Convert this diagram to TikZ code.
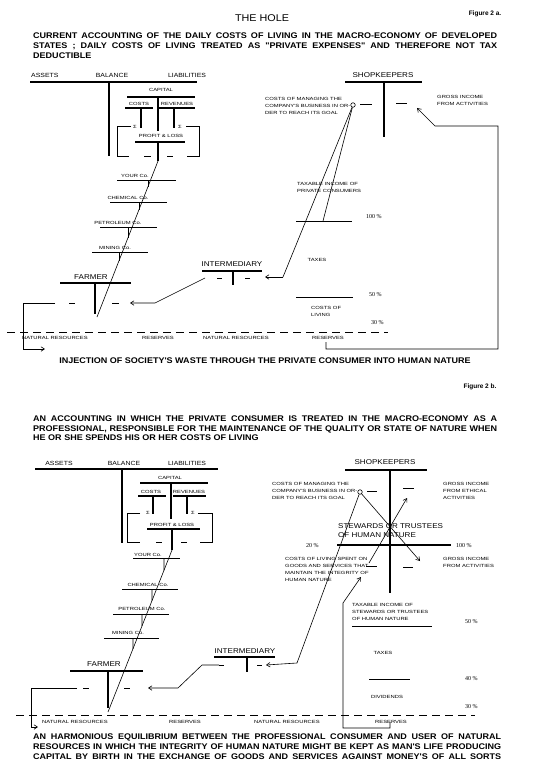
\documentclass[tikz,border=0pt]{standalone}
\usepackage{fontspec}
\setmainfont{Liberation Sans}
\newfontfamily\lab[FakeStretch=1.15]{Liberation Sans}
\newfontfamily\tny[FakeStretch=1.3]{Liberation Sans}
\newfontfamily\hdf[FakeStretch=1.1]{Liberation Sans}
\newfontfamily\pcf{Liberation Serif}
\usetikzlibrary{arrows.meta}
\begin{document}
\begin{tikzpicture}[x=1pt,y=-1pt,
 thk/.style={line width=1.7pt},
 med/.style={line width=1.1pt},
 thn/.style={line width=0.6pt},
 arr/.style={thn,-{Straight Barb[length=3.5pt,width=4.5pt]}},
 dsh/.style={line width=0.7pt,dash pattern=on 8pt off 5pt},
 hd/.style={font=\hdf\bfseries\fontsize{8.2}{9}\selectfont,inner sep=0pt,anchor=west},
 fg/.style={font=\bfseries\fontsize{6.5}{8}\selectfont,inner sep=0pt},
 ttl/.style={font=\hdf\fontsize{9.8}{11}\selectfont,inner sep=0pt},
 lb/.style={font=\lab\fontsize{6}{7}\selectfont,inner sep=0pt},
 lbb/.style={font=\lab\fontsize{7}{9}\selectfont,inner sep=0pt},
 tn/.style={font=\tny\fontsize{4.5}{7}\selectfont,inner sep=0pt},
 pc/.style={font=\pcf\fontsize{6}{7}\selectfont,inner sep=0pt,anchor=west},
 ring/.style={circle,draw,line width=0.6pt,inner sep=0pt,minimum size=4.5pt}]
\fill[white] (0,0) rectangle (543,765);
\useasboundingbox (0,0) rectangle (543,765);
% ================= FIGURE 2a =================
\node[ttl] (title) at (262,18) {THE HOLE};
\node[fg] (figa) at (485,14) {Figure 2 a.};
\node[hd] (p1a) at (33,36) {\makebox[464pt][s]{CURRENT ACCOUNTING OF THE DAILY COSTS OF LIVING IN THE MACRO-ECONOMY OF DEVELOPED}};
\node[hd] (p1b) at (33,46) {\makebox[464pt][s]{STATES ; DAILY COSTS OF LIVING TREATED AS "PRIVATE EXPENSES" AND THEREFORE NOT TAX}};
\node[hd] (p1c) at (33,56) {DEDUCTIBLE};
% balance
\node[lb,anchor=west] (as1) at (31,75) {ASSETS};
\node[lb] (ba1) at (112,75) {BALANCE};
\node[lb] (li1) at (187,75) {LIABILITIES};
\draw[thk] (30,82) -- (197,82);
\draw[thk] (109,82) -- (109,156);
\node[tn] (ca1) at (161,90) {CAPITAL};
\draw[med] (127,97) -- (195,97);
\draw[med] (158,97) -- (158,131);
\node[tn] (co1) at (139,104) {COSTS};
\draw[med] (125,108) -- (153,108);
\node[tn] (re1) at (177,104) {REVENUES};
\draw[med] (159,108) -- (195,108);
\draw[med] (141,108) -- (141,128);
\draw[med] (174,108) -- (174,128);
\node[tn] (s1a) at (135,127) {Σ};
\node[tn] (s1b) at (180,127) {Σ};
\draw[thn] (131,126) -- (117,126) -- (117,156) -- (129,156);
\draw[thn] (144,156) -- (151,156) (167,156) -- (173,156);
\draw[thn] (186,126) -- (199,126) -- (199,156) -- (187,156);
\node[tn] (pl1) at (161,136) {PROFIT \& LOSS};
\draw[med] (135,142) -- (185,142);
\draw[med] (158,142) -- (158,161);
\coordinate (dA1) at (158,161);
\coordinate (dB1) at (97,317);
\draw[thn] (dA1) -- (dB1);
% companies
\node[tn] (yc1) at (135,176) {YOUR Co.};
\draw[thn] (117,180) -- (176,180);
\coordinate (k1a) at (148,180); \coordinate (k1b) at (148,320);
\draw[thn] (k1a) -- (intersection of dA1--dB1 and k1a--k1b);
\node[tn] (ch1) at (128,198) {CHEMICAL Co.};
\draw[thn] (110,202) -- (167,202);
\coordinate (k2a) at (139,202); \coordinate (k2b) at (139,320);
\draw[thn] (k2a) -- (intersection of dA1--dB1 and k2a--k2b);
\node[tn] (pe1) at (118,223) {PETROLEUM Co.};
\draw[thn] (100,227) -- (157,227);
\coordinate (k3a) at (128,227); \coordinate (k3b) at (128,320);
\draw[thn] (k3a) -- (intersection of dA1--dB1 and k3a--k3b);
\node[tn] (mi1) at (115,248) {MINING Co.};
\draw[thn] (92,252) -- (148,252);
\coordinate (k4a) at (119,252); \coordinate (k4b) at (119,320);
\draw[thn] (k4a) -- (intersection of dA1--dB1 and k4a--k4b);
% farmer
\node[lbb] (fa1) at (91,277) {FARMER};
\draw[thk] (60,283) -- (131,283);
\draw[thk] (95,283) -- (95,314);
\draw[thn] (69,303) -- (75,303) (112,303) -- (119,303);
% intermediary
\node[lbb] (in1) at (232,264) {INTERMEDIARY};
\draw[thk] (202,271) -- (262,271);
\draw[thk] (233,271) -- (233,285);
\draw[thn] (217,278) -- (222,278) (245,278) -- (250,278);
\coordinate (i1a) at (205,278); \coordinate (i1b) at (155,303); \coordinate (i1c) at (130,303);
\draw[arr] (i1a) -- (i1b) -- (i1c);
% shopkeepers
\node[lbb] (sh1) at (383,75) {SHOPKEEPERS};
\draw[thk] (345,82) -- (422,82);
\draw[thk] (384,82) -- (384,137);
\node[ring] (c1) at (353,105) {};
\draw[thn] (360,104) -- (372,104) (396,103) -- (407,103);
\node[tn,align=left,anchor=north west] (cm1) at (265,97) {COSTS OF MANAGING THE\\COMPANY'S BUSINESS IN OR-\\DER TO REACH ITS GOAL};
\node[tn,align=left,anchor=north west] (gi1) at (437,95) {GROSS INCOME\\FROM ACTIVITIES};
\coordinate (t1a) at (283,277); \coordinate (t1b) at (265,277);
\draw[thn] (c1) -- (t1a); \draw[arr] (t1a) -- (t1b);
\coordinate (h1) at (323,221);
\draw[thn] (c1) -- (h1);
\coordinate (r1a) at (326,342); \coordinate (r1b) at (417,108);
\draw[arr] (r1a) -- (326,349) -- (498,349) -- (498,126) -- (435,126) -- (r1b);
\node[tn,align=left,anchor=north west] (tx1) at (297,182) {TAXABLE INCOME OF\\PRIVATE CONSUMERS};
\draw[thn] (296,221) -- (352,221);
\node[pc] (p100a) at (366,217) {100 \%};
\node[tn] (ta1) at (317,260) {TAXES};
\draw[thn] (296,297) -- (353,297);
\node[pc] (p50a) at (369,295) {50 \%};
\node[tn,align=left,anchor=north west] (cl1) at (311,306) {COSTS OF\\LIVING};
\node[pc] (p30a) at (371,323) {30 \%};
\draw[dsh] (7,332) -- (388,332);
\node[tn] (nr1a) at (55,338) {NATURAL RESOURCES};
\node[tn] (rs1a) at (158,338) {RESERVES};
\node[tn] (nr1b) at (236,338) {NATURAL RESOURCES};
\node[tn] (rs1b) at (328,338) {RESERVES};
\coordinate (l1a) at (55,303); \coordinate (l1b) at (45,349);
\draw[arr] (l1a) -- (23,303) -- (23,349) -- (l1b);
\node[hd,anchor=center] (inj) at (265,361) {INJECTION OF SOCIETY'S WASTE THROUGH THE PRIVATE CONSUMER INTO HUMAN NATURE};
% ================= FIGURE 2b =================
\node[fg] (figb) at (480,387) {Figure 2 b.};
\node[hd] (p2a) at (33,419) {\makebox[464pt][s]{AN ACCOUNTING IN WHICH THE PRIVATE CONSUMER IS TREATED IN THE MACRO-ECONOMY AS A}};
\node[hd] (p2b) at (33,429) {\makebox[464pt][s]{PROFESSIONAL, RESPONSIBLE FOR THE MAINTENANCE OF THE QUALITY OR STATE OF NATURE WHEN}};
\node[hd] (p2c) at (33,438) {HE OR SHE SPENDS HIS OR HER COSTS OF LIVING};
% balance
\node[lb] (as2) at (59,463) {ASSETS};
\node[lb] (ba2) at (124,463) {BALANCE};
\node[lb] (li2) at (187,463) {LIABILITIES};
\draw[thk] (35,469) -- (218,469);
\draw[thk] (122,469) -- (122,543);
\node[tn] (ca2) at (170,478) {CAPITAL};
\draw[med] (140,483) -- (208,483);
\draw[med] (171,483) -- (171,519);
\node[tn] (co2) at (151,492) {COSTS};
\draw[med] (138,496) -- (166,496);
\node[tn] (re2) at (189,492) {REVENUES};
\draw[med] (173,496) -- (206,496);
\draw[med] (153,496) -- (153,514);
\draw[med] (187,496) -- (187,514);
\node[tn] (s2a) at (148,513) {Σ};
\node[tn] (s2b) at (193,513) {Σ};
\draw[thn] (140,513) -- (127,513) -- (127,542) -- (140,542);
\draw[thn] (156,542) -- (162,542) (181,542) -- (187,542);
\draw[thn] (198,513) -- (212,513) -- (212,542) -- (200,542);
\node[tn] (pl2) at (172,525) {PROFIT \& LOSS};
\draw[med] (147,529) -- (200,529);
\draw[med] (172,529) -- (172,550);
\coordinate (dA2) at (172,550);
\coordinate (dB2) at (108,712);
\draw[thn] (dA2) -- (dB2);
\node[tn] (yc2) at (148,555) {YOUR Co.};
\draw[thn] (133,558) -- (180,558);
\coordinate (m1a) at (164,558); \coordinate (m1b) at (164,720);
\draw[thn] (m1a) -- (intersection of dA2--dB2 and m1a--m1b);
\node[tn] (ch2) at (148,585) {CHEMICAL Co.};
\draw[thn] (122,589) -- (178,589);
\coordinate (m2a) at (152,589); \coordinate (m2b) at (152,720);
\draw[thn] (m2a) -- (intersection of dA2--dB2 and m2a--m2b);
\node[tn] (pe2) at (142,609) {PETROLEUM Co.};
\draw[thn] (113,614) -- (169,614);
\coordinate (m3a) at (142,614); \coordinate (m3b) at (142,720);
\draw[thn] (m3a) -- (intersection of dA2--dB2 and m3a--m3b);
\node[tn] (mi2) at (128,633) {MINING Co.};
\draw[thn] (104,638) -- (159,638);
\coordinate (m4a) at (133,638); \coordinate (m4b) at (133,720);
\draw[thn] (m4a) -- (intersection of dA2--dB2 and m4a--m4b);
% farmer
\node[lbb] (fa2) at (104,664) {FARMER};
\draw[thk] (70,671) -- (143,671);
\draw[thk] (108,671) -- (108,708);
\draw[thn] (83,688) -- (89,688) (124,688) -- (130,688);
% intermediary
\node[lbb] (in2) at (245,651) {INTERMEDIARY};
\draw[thk] (214,657) -- (275,657);
\draw[thk] (247,657) -- (247,672);
\draw[thn] (219,665) -- (224,665) (257,665) -- (262,665);
\coordinate (i2a) at (219,665); \coordinate (i2b) at (148,688);
\draw[arr] (i2a) -- (202,665) -- (178,688) -- (i2b);
% shopkeepers / stewards
\node[lbb] (sh2) at (385,462) {SHOPKEEPERS};
\draw[thk] (345,470) -- (427,470);
\draw[thk] (390,470) -- (390,593);
\draw[thk] (337,545) -- (451,545);
\node[ring] (c2) at (360,492) {};
\draw[thn] (367,491) -- (377,491) (403,488) -- (414,488);
\draw[thn] (366,566) -- (377,566) (403,567) -- (413,567);
\node[tn,align=left,anchor=north west] (cm2) at (272,482) {COSTS OF MANAGING THE\\COMPANY'S BUSINESS IN OR-\\DER TO REACH ITS GOAL};
\node[tn,align=left,anchor=north west] (ge2) at (443,482) {GROSS INCOME\\FROM ETHICAL\\ACTIVITIES};
\node[lbb,align=left,anchor=north west,font=\lab\fontsize{7}{9.5}\selectfont] (st2) at (338,523) {STEWARDS OR TRUSTEES\\OF HUMAN NATURE};
\node[pc] (p20b) at (306,546) {20 \%};
\node[pc] (p100b) at (456,546) {100 \%};
\node[tn,align=left,anchor=north west] (cl2) at (285,557) {COSTS OF LIVING SPENT ON\\GOODS AND SERVICES THAT\\MAINTAIN THE INTEGRITY OF\\HUMAN NATURE};
\node[tn,align=left,anchor=north west] (gi2) at (443,557) {GROSS INCOME\\FROM ACTIVITIES};
\coordinate (e1) at (420,561);
\draw[arr] (c2) -- (e1);
\coordinate (e2a) at (369,563); \coordinate (e2b) at (407,498);
\draw[arr] (e2a) -- (e2b);
\coordinate (e3a) at (297,663); \coordinate (e3b) at (266,665);
\draw[thn] (c2) -- (e3a); \draw[arr] (e3a) -- (e3b);
\coordinate (f2a) at (390,722); \coordinate (f2b) at (361,577);
\draw[arr] (f2a) -- (390,728) -- (343,728) -- (343,603) -- (f2b);
\node[tn,align=left,anchor=north west] (tx2) at (352,603) {TAXABLE INCOME OF\\STEWARDS OR TRUSTEES\\OF HUMAN NATURE};
\draw[thn] (352,626) -- (432,626);
\node[pc] (p50b) at (465,622) {50 \%};
\node[tn] (ta2) at (383,653) {TAXES};
\draw[thn] (369,679) -- (410,679);
\node[pc] (p40b) at (465,679) {40 \%};
\node[tn] (dv2) at (387,697) {DIVIDENDS};
\node[pc] (p30b) at (465,707) {30 \%};
\draw[dsh] (16,715) -- (475,715);
\node[tn] (nr2a) at (75,722) {NATURAL RESOURCES};
\node[tn] (rs2a) at (185,722) {RESERVES};
\node[tn] (nr2b) at (287,722) {NATURAL RESOURCES};
\node[tn] (rs2b) at (391,722) {RESERVES};
\coordinate (l2a) at (77,688); \coordinate (l2b) at (38,727);
\draw[arr] (l2a) -- (31,688) -- (31,727) -- (l2b);
\node[hd] (q1) at (33,737) {\makebox[468pt][s]{AN HARMONIOUS EQUILIBRIUM BETWEEN THE PROFESSIONAL CONSUMER AND USER OF NATURAL}};
\node[hd] (q2) at (33,747) {\makebox[468pt][s]{RESOURCES IN WHICH THE INTEGRITY OF HUMAN NATURE MIGHT BE KEPT AS MAN'S LIFE PRODUCING}};
\node[hd] (q3) at (33,757) {\makebox[468pt][s]{CAPITAL BY BIRTH IN THE EXCHANGE OF GOODS AND SERVICES AGAINST MONEY'S OF ALL SORTS}};
\end{tikzpicture}
\end{document}
